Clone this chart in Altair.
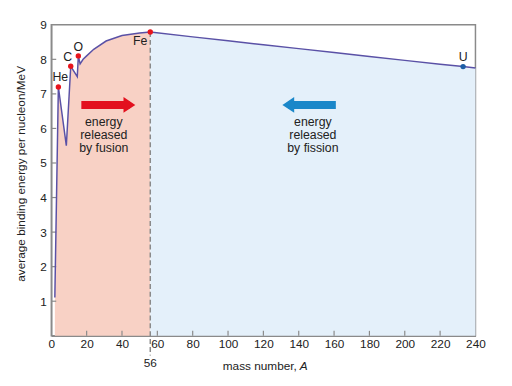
import altair as alt
import pandas as pd

# ---- data ----
mass = [2, 4, 8.5, 11, 14.7, 15.3, 16.3, 18, 20, 24, 31, 40, 50, 56,
        80, 100, 120, 140, 160, 180, 200, 220, 233, 240]
energy = [1.11, 7.2, 5.5, 7.8, 7.5, 8.1, 7.87, 8.0, 8.1, 8.29, 8.53, 8.69, 8.76, 8.79,
          8.65, 8.54, 8.42, 8.31, 8.20, 8.08, 7.97, 7.86, 7.79, 7.75]

elements = ["He", "C", "O", "Fe", "U"]
element_mass = [4, 11, 15.3, 56, 233]
element_energy = [7.2, 7.8, 8.1, 8.79, 7.79]
element_color = ["#e8141c", "#e8141c", "#e8141c", "#e8141c", "#1d5ea6"]

x_ticks = [0, 20, 40, 60, 80, 100, 120, 140, 160, 180, 200, 220, 240]
y_ticks = [1, 2, 3, 4, 5, 6, 7, 8, 9]
iron_mass = 56

# ---- styling ----
FONT = "Liberation Sans"
GRAY = "#8a8a8a"
TXT = "#222222"
PINK = "#f8d1c5"
LBLUE = "#e4f0fa"
LINE = "#5a51a6"
RED = "#e3101e"
BLUE = "#1a87c9"
W, H = 431, 316

xs = alt.Scale(domain=[0, 240], nice=False, zero=False)
ys = alt.Scale(domain=[0, 9], nice=False, zero=False)

curve = pd.DataFrame({"A": mass, "E": energy})
fusion = curve[curve.A <= iron_mass]
fission = curve[curve.A >= iron_mass]
elem = pd.DataFrame({"name": elements, "A": element_mass, "E": element_energy, "c": element_color})

x_axis = alt.Axis(values=x_ticks, title=None, ticks=False, grid=False, labelFontSize=12,
                  labelFont=FONT, labelColor=TXT, labelPadding=3, domainColor=GRAY,
                  domainWidth=1.5, labelFlush=False)
y_axis = alt.Axis(values=y_ticks, title="average binding energy per nucleon/MeV", ticks=False,
                  grid=False, labelFontSize=12, labelFont=FONT, labelColor=TXT, labelPadding=5,
                  domainColor=GRAY, domainWidth=1.5, titleFont=FONT, titleFontSize=12,
                  titleFontWeight="normal", titleColor=TXT, titleX=-31, titleY=151,
                  titleAlign="center", titleBaseline="middle", titleAngle=270)


def X():
    return alt.X("A:Q", scale=xs, axis=x_axis)


def Y():
    return alt.Y("E:Q", scale=ys, axis=y_axis)


area_fus = alt.Chart(fusion).mark_area(color=PINK).encode(x=X(), y=Y())
area_fis = alt.Chart(fission).mark_area(color=LBLUE).encode(x=X(), y=Y())

xtick_layer = alt.Chart(pd.DataFrame({"A": x_ticks[1:-1]})).mark_rule(color=GRAY, strokeWidth=1.2).encode(
    x=X(), y=alt.value(H), y2=alt.value(H - 5))
ytick_layer = alt.Chart(pd.DataFrame({"E": y_ticks[:-1]})).mark_rule(color=GRAY, strokeWidth=1.2).encode(
    y=Y(), x=alt.value(0), x2=alt.value(5))

dash = alt.Chart(pd.DataFrame({"A": [iron_mass], "E": [element_energy[3]]})).mark_rule(
    color=GRAY, strokeDash=[5, 3], strokeWidth=1.5).encode(x=X(), y=Y(), y2=alt.value(H + 20))
dash_label = alt.Chart(pd.DataFrame({"A": [iron_mass], "t": [str(iron_mass)]})).mark_text(
    font=FONT, fontSize=12, color=TXT, baseline="middle").encode(x=X(), y=alt.value(H + 28), text="t:N")

line = alt.Chart(curve).mark_line(color=LINE, strokeWidth=1.5).encode(x=X(), y=Y())

dots = alt.Chart(elem).mark_circle(size=30, opacity=1).encode(
    x=X(), y=Y(), color=alt.Color("c:N", scale=None))

label_offsets = {"He": (2, -10, "center"), "C": (-3, -9, "center"), "O": (0, -9, "center"),
                 "Fe": (-3, 9, "right"), "U": (0, -10, "center")}
labels = []
for nm, (dx, dy, al) in label_offsets.items():
    labels.append(alt.Chart(elem[elem.name == nm]).mark_text(
        font=FONT, fontSize=12.5, color=TXT, dx=dx, dy=dy, align=al, baseline="middle").encode(
        x=X(), y=Y(), text="name:N"))

# arrows
arrow_y = 6.68
red_shaft = alt.Chart(pd.DataFrame({"A": [17.0], "A2": [44.2], "E": [arrow_y]})).mark_rule(
    color=RED, strokeWidth=8).encode(x=X(), x2="A2:Q", y=Y())
red_head = alt.Chart(pd.DataFrame({"A": [44.2], "E": [arrow_y]})).mark_point(
    shape="M-0.75,-1L0.75,0L-0.75,1Z", size=256, filled=True, color=RED, opacity=1,
    strokeWidth=0).encode(x=X(), y=Y())
blue_shaft = alt.Chart(pd.DataFrame({"A": [134.1], "A2": [161.0], "E": [arrow_y]})).mark_rule(
    color=BLUE, strokeWidth=8).encode(x=X(), x2="A2:Q", y=Y())
blue_head = alt.Chart(pd.DataFrame({"A": [134.1], "E": [arrow_y]})).mark_point(
    shape="M0.75,-1L-0.75,0L0.75,1Z", size=256, filled=True, color=BLUE, opacity=1,
    strokeWidth=0).encode(x=X(), y=Y())

notes = pd.DataFrame({"A": [29.7, 148], "E": [6.18, 6.18],
                      "t": ["energy\nreleased\nby fusion", "energy\nreleased\nby fission"]})
note_text = alt.Chart(notes).mark_text(font=FONT, fontSize=12.5, color=TXT, lineBreak="\n",
                                       lineHeight=13.2, baseline="middle").encode(
    x=X(), y=Y(), text="t:N")

# x-axis title
xt = pd.DataFrame({"A": [139.5], "a": ["mass number,"], "b": ["A"]})
xtitle1 = alt.Chart(xt).mark_text(font=FONT, fontSize=12, color=TXT, align="right", dx=-1,
                                  baseline="middle").encode(x=X(), y=alt.value(H + 30.5), text="a:N")
xtitle2 = alt.Chart(xt).mark_text(font=FONT, fontSize=12, color=TXT, align="left", dx=2,
                                  fontStyle="italic", baseline="middle").encode(
    x=X(), y=alt.value(H + 30.5), text="b:N")

chart = alt.layer(
    area_fus, area_fis, xtick_layer, ytick_layer, dash, dash_label, line, dots, *labels,
    red_shaft, red_head, blue_shaft, blue_head, note_text, xtitle1, xtitle2
).properties(
    width=W, height=H,
    autosize=alt.AutoSizeParams(type="none"),
    padding={"left": 44, "top": 14, "right": 29, "bottom": 48},
    background="white",
).configure_view(stroke=GRAY, strokeWidth=1.5)

chart.save("out.html", embed_options={"renderer": "svg", "actions": False})
